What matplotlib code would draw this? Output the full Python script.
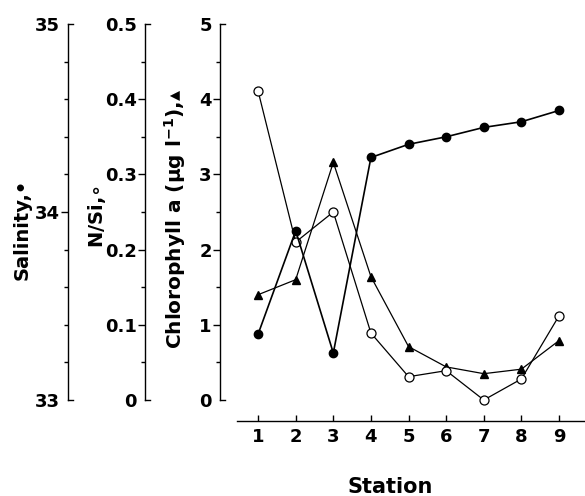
import numpy as np
import matplotlib
matplotlib.use('Agg')
from matplotlib import pyplot as plt
from matplotlib import transforms

plt.rcParams['font.family'] = ['DejaVu Sans']
plt.rcParams['font.weight'] = 'bold'
plt.rcParams['mathtext.fontset'] = 'dejavusans'
plt.rcParams['mathtext.default'] = 'bf'

stations = [1, 2, 3, 4, 5, 6, 7, 8, 9]
salinity = [33.35, 33.90, 33.25, 34.29, 34.36, 34.40, 34.45, 34.48, 34.54]
n_si = [0.411, 0.210, 0.250, 0.089, 0.031, 0.039, 0.0, 0.028, 0.112]
chl_a = [1.40, 1.60, 3.16, 1.64, 0.71, 0.44, 0.35, 0.41, 0.79]

W, H = 585, 496
fig = plt.figure(figsize=(W / 100, H / 100), dpi=100)
ax = fig.add_axes([237 / W, (H - 400) / H, 1 - 237 / W, 376 / H])
ax_ns = ax.twinx()
ax_sal = ax.twinx()

px = 0.72  # points per pixel


def style_left(a, offset_px, lo, hi, major, minor, fmt):
    for s in ['top', 'right', 'bottom']:
        a.spines[s].set_visible(False)
    a.spines['left'].set_visible(True)
    a.spines['left'].set_position(('outward', offset_px * px))
    a.spines['left'].set_bounds(lo, hi)
    a.spines['left'].set_linewidth(1.0)
    a.yaxis.set_ticks_position('left')
    a.yaxis.set_label_position('left')
    a.set_ylim(lo, hi)
    a.set_yticks(major)
    a.set_yticklabels([fmt(v) for v in major])
    a.set_yticks(minor, minor=True)
    a.tick_params(axis='y', which='major', direction='out', length=5, width=1,
                  pad=1, labelsize=13)
    a.tick_params(axis='y', which='minor', direction='out', length=3, width=1)
    ticks = a.yaxis.get_major_ticks()
    ticks[0].tick1line.set_visible(False)
    ticks[-1].tick1line.set_visible(False)
    # end caps pointing right
    tr = transforms.blended_transform_factory(a.transAxes, a.transData) + \
        transforms.ScaledTranslation(-offset_px / 100, 0, fig.dpi_scale_trans)
    for y in (lo, hi):
        a.plot([0, 5 / 348], [y, y], color='black', lw=1, transform=tr,
               clip_on=False)


style_left(ax, 17, 0, 5, [0, 1, 2, 3, 4, 5], np.arange(0, 5.01, 0.5),
           lambda v: '%d' % v)
style_left(ax_ns, 92, 0, 0.5, [0, 0.1, 0.2, 0.3, 0.4, 0.5],
           np.arange(0, 0.501, 0.05), lambda v: '0' if v == 0 else '%.1f' % v)
style_left(ax_sal, 169, 33, 35, [33, 34, 35], np.arange(33, 35.01, 0.2),
           lambda v: '%d' % v)

ax.spines['bottom'].set_visible(True)
ax.spines['bottom'].set_position(('outward', 21 * px))
ax.spines['bottom'].set_linewidth(1.0)
ax.set_xlim(0.44, 9.69)
ax.set_xticks(stations)
ax.tick_params(axis='x', direction='in', length=4, width=1, pad=5, labelsize=13)

ax_sal.plot(stations, salinity, '-o', color='black', lw=1.2, ms=6,
            mfc='black', mec='black', clip_on=False, zorder=3)
ax_ns.plot(stations, n_si, '-o', color='black', lw=0.9, ms=6.5,
           mfc='white', mec='black', mew=0.9, clip_on=False, zorder=4)
ax.plot(stations, chl_a, '-^', color='black', lw=0.9, ms=5.5,
        mfc='black', mec='black', clip_on=False, zorder=3)

fig.text(22 / W, 1 - 229 / H, 'Salinity,•', rotation=90,
         ha='center', va='center', fontsize=14)
fig.text(97 / W, 1 - 217 / H, r'N/Si,$\circ$', rotation=90,
         ha='center', va='center', fontsize=14)
fig.text(175 / W, 1 - 219 / H, r'Chlorophyll a ($\mathbf{\mu}$g l$^{-1}$),▴',
         rotation=90, ha='center', va='center', fontsize=14.5)
fig.text(390 / W, 1 - 487 / H, 'Station', ha='center', va='center', fontsize=15)

fig.savefig('out.png', dpi=100)
